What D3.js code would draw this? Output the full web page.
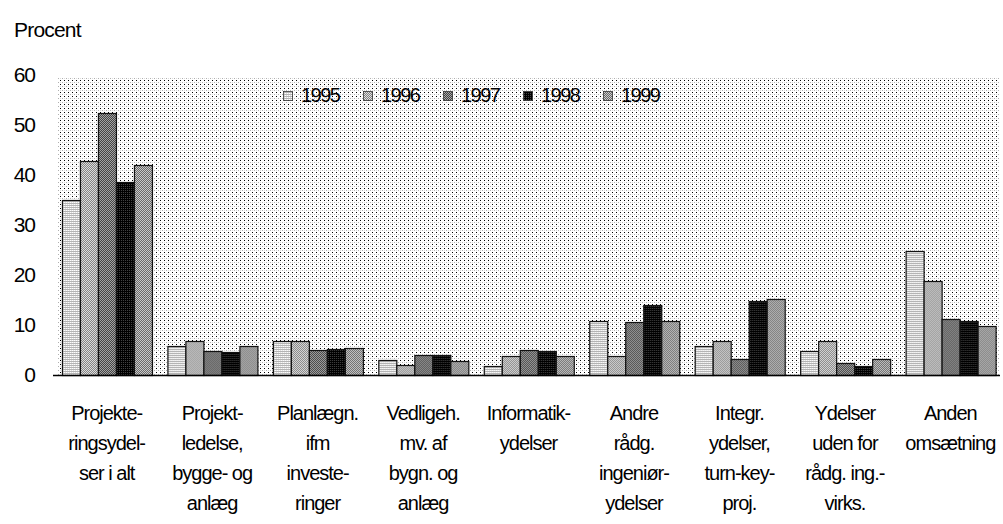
<!DOCTYPE html>
<html>
<head>
<meta charset="utf-8">
<script src="https://cdn.jsdelivr.net/npm/d3@7"></script>
<style>
  html, body { margin: 0; padding: 0; background: #fff; }
  svg text { font-family: "Liberation Sans", Arial, sans-serif; fill: #000; }
</style>
</head>
<body>
<svg id="chart" width="1003" height="524"></svg>
<script>
// ---- data ----
const categories = [
  ["Projekte-", "ringsydel-", "ser i alt"],
  ["Projekt-", "ledelse,", "bygge- og", "anlæg"],
  ["Planlægn.", "ifm", "investe-", "ringer"],
  ["Vedligeh.", "mv. af", "bygn. og", "anlæg"],
  ["Informatik-", "ydelser"],
  ["Andre", "rådg.", "ingeniør-", "ydelser"],
  ["Integr.", "ydelser,", "turn-key-", "proj."],
  ["Ydelser", "uden for", "rådg. ing.-", "virks."],
  ["Anden", "omsætning"]
];
const years = ["1995", "1996", "1997", "1998", "1999"];
const v1995 = [35.0, 5.8, 6.9, 3.0, 1.9, 10.9, 5.9, 4.9, 24.9];
const v1996 = [42.9, 6.9, 6.9, 2.0, 3.9, 3.9, 6.9, 6.9, 18.9];
const v1997 = [52.5, 4.9, 5.1, 4.1, 5.1, 10.6, 3.3, 2.5, 11.3];
const v1998 = [38.5, 4.7, 5.3, 4.1, 4.9, 14.1, 14.9, 1.9, 10.8];
const v1999 = [42.1, 5.9, 5.5, 2.8, 3.9, 10.9, 15.3, 3.3, 9.9];
const seriesValues = [v1995, v1996, v1997, v1998, v1999];
const yTicks = [0, 10, 20, 30, 40, 50, 60];
const yTitle = "Procent";

// ---- layout ----
const svg = d3.select("#chart");
const plot = { left: 57, right: 1000, top: 75, bottom: 375 };

const x0 = d3.scaleBand().domain(d3.range(categories.length))
  .range([plot.left, plot.right]).paddingInner(0.152).paddingOuter(0.047);
const x1 = d3.scaleBand().domain(years).range([0, x0.bandwidth()]).padding(0);
const y = d3.scaleLinear().domain([0, 60]).range([plot.bottom, plot.top]);

// ---- patterns ----
const defs = svg.append("defs");
function pattern(id, w, h, base, pixels) {
  const p = defs.append("pattern").attr("id", id).attr("patternUnits", "userSpaceOnUse")
    .attr("x", 0).attr("y", 0).attr("width", w).attr("height", h);
  p.append("rect").attr("width", w).attr("height", h).attr("fill", base);
  pixels.forEach(([px, py, c]) => p.append("rect").attr("x", px).attr("y", py)
    .attr("width", 1).attr("height", 1).attr("fill", c));
}
pattern("bg", 4, 4, "#ffffff", [[0, 0, "#000"], [2, 2, "#b0b0b0"], [0, 2, "#dcdcdc"]]);
pattern("p1995", 2, 2, "#b4b4b4", [[0, 0, "#ffffff"], [1, 0, "#dddddd"]]);
pattern("p1996", 2, 2, "#e0e0e0", [[1, 0, "#808080"], [0, 1, "#808080"]]);
pattern("p1997", 2, 2, "#a8a8a8", [[1, 0, "#404040"], [0, 1, "#404040"]]);
pattern("p1998", 2, 2, "#000000", [[1, 0, "#444444"]]);
pattern("p1999", 2, 2, "#cccccc", [[1, 0, "#666666"], [0, 1, "#666666"]]);
const fills = years.map(yr => `url(#p${yr})`);

// ---- background ----
svg.append("rect").attr("x", plot.left).attr("y", y(60) + 2)
  .attr("width", plot.right - plot.left).attr("height", y(0) - y(60) - 2)
  .attr("fill", "url(#bg)");

// ---- bars ----
const groups = svg.append("g").selectAll("g")
  .data(categories.map((c, i) => i)).join("g")
  .attr("transform", i => `translate(${x0(i)},0)`);
groups.selectAll("rect")
  .data(i => years.map((yr, s) => ({ yr, s, v: seriesValues[s][i] })))
  .join("rect")
  .attr("x", d => Math.round(x1(d.yr)) + 0.5)
  .attr("y", d => Math.round(y(d.v)) + 0.5)
  .attr("width", d => Math.round(x1.bandwidth()))
  .attr("height", d => y(0) - Math.round(y(d.v)))
  .attr("fill", d => fills[d.s])
  .attr("stroke", "#111")
  .attr("stroke-width", 1.2);

// ---- x axis line ----
svg.append("line").attr("x1", 53).attr("x2", plot.right)
  .attr("y1", y(0) + 0.5).attr("y2", y(0) + 0.5)
  .attr("stroke", "#000").attr("stroke-width", 1.5);

// ---- y tick labels ----
const yAxis = d3.axisLeft(y).tickValues(yTicks).tickSize(0).tickPadding(0);
const ya = svg.append("g").attr("transform", "translate(35,0)").call(yAxis);
ya.select(".domain").remove();
ya.selectAll("text").attr("font-size", 21).attr("letter-spacing", -1)
  .attr("font-family", "Liberation Sans, Arial, sans-serif").attr("fill", "#000");

// ---- y title ----
svg.append("text").attr("x", 14).attr("y", 37).attr("font-size", 21)
  .attr("letter-spacing", -0.8).text(yTitle);

// ---- category labels ----
const lab = svg.append("g").selectAll("text").data(categories).join("text")
  .attr("text-anchor", "middle").attr("font-size", 20).attr("letter-spacing", -1)
  .attr("transform", (d, i) => `translate(${x0(i) + x0.bandwidth() / 2},0)`);
lab.selectAll("tspan").data(d => d).join("tspan")
  .attr("x", 0).attr("y", (d, j) => 420 + j * 30).text(d => d);

// ---- legend ----
const leg = svg.append("g").selectAll("g").data(years).join("g")
  .attr("transform", (d, i) => `translate(${283 + i * 80},91)`);
leg.append("rect").attr("x", 0.5).attr("y", 0.5).attr("width", 9).attr("height", 9)
  .attr("fill", (d, i) => fills[i]).attr("stroke", "#333").attr("stroke-width", 0.8);
leg.append("text").attr("x", 18).attr("y", 11).attr("font-size", 20)
  .attr("letter-spacing", -1.5).text(d => d);
</script>
</body>
</html>
